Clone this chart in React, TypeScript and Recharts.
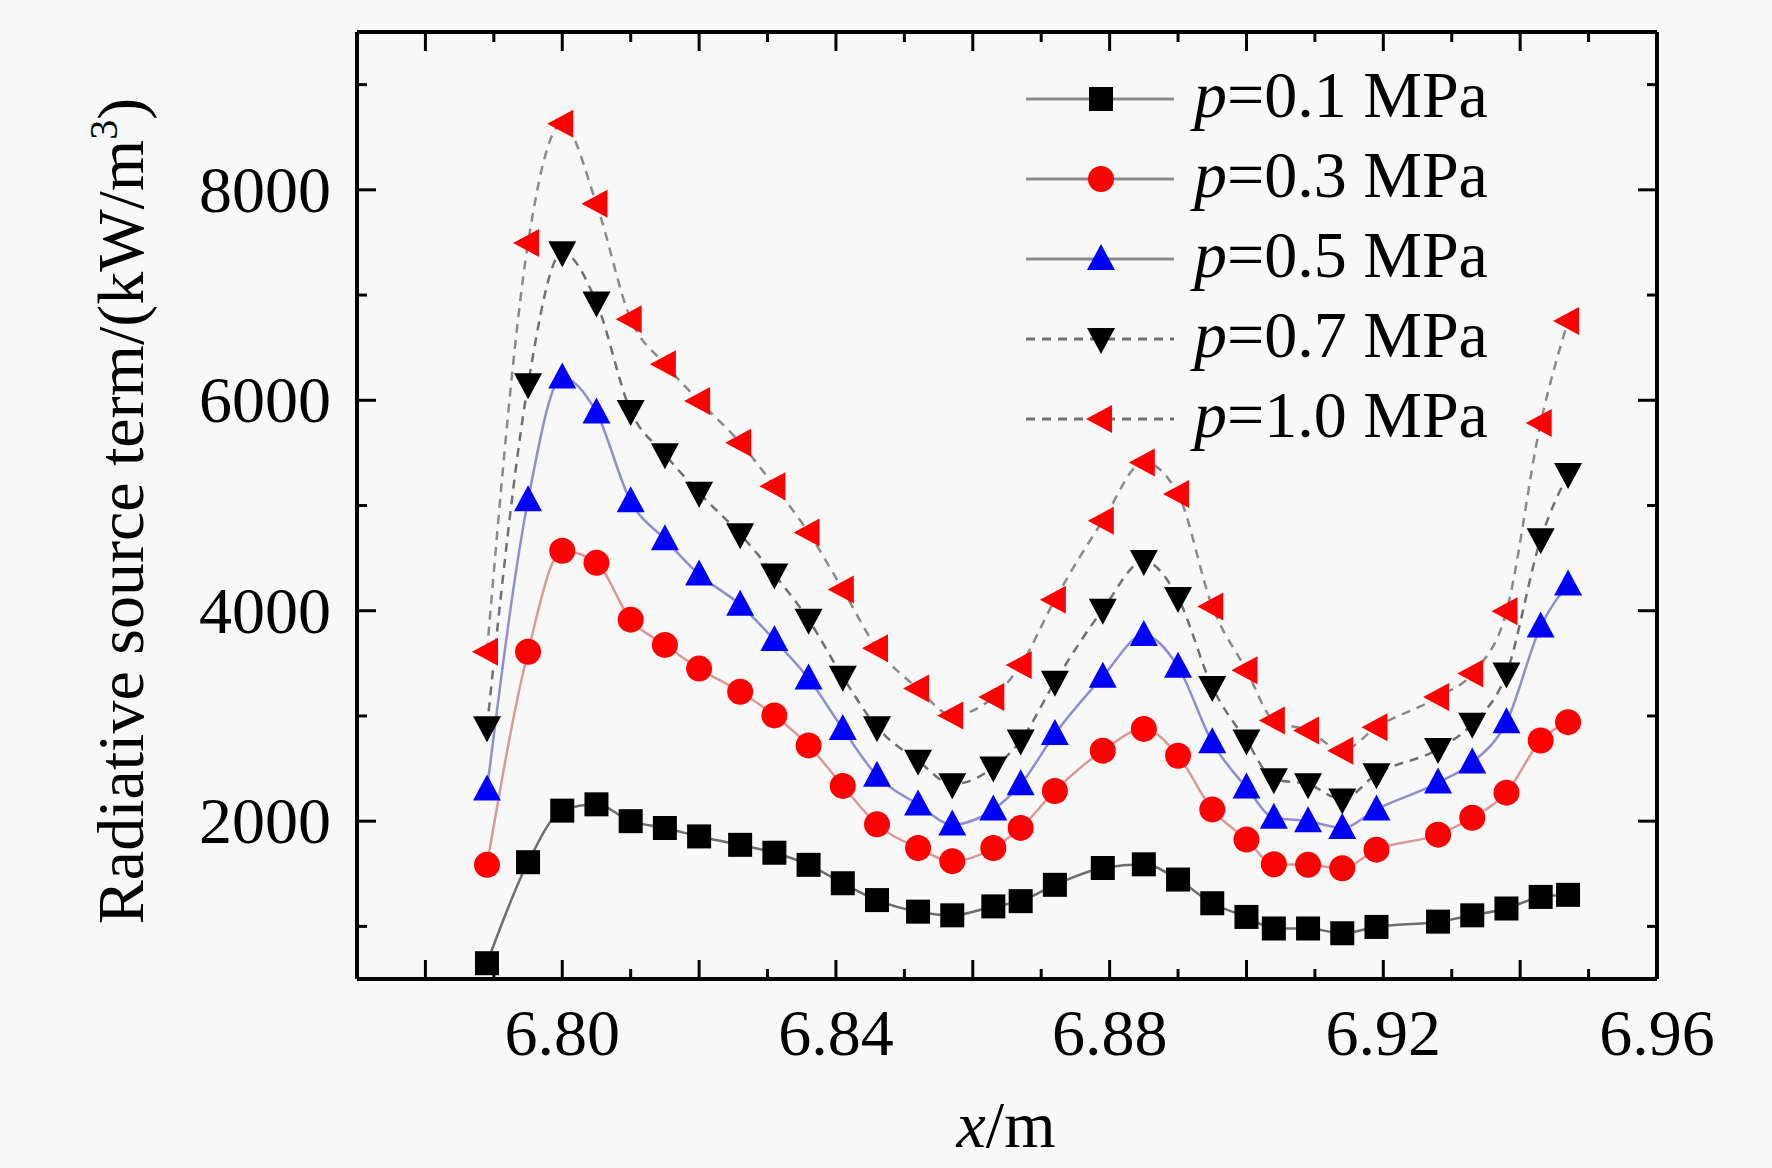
import React from 'react';
import { LineChart, Line, XAxis, YAxis, Legend } from 'recharts';

// x positions (m)
const xValues = [
  6.789, 6.795, 6.800, 6.805, 6.810, 6.815, 6.820, 6.826, 6.831, 6.836, 6.841,
  6.846, 6.852, 6.857, 6.863, 6.867, 6.872, 6.879, 6.885, 6.890, 6.895, 6.900,
  6.904, 6.909, 6.914, 6.919, 6.928, 6.933, 6.938, 6.943, 6.947,
];

// radiative source term (kW/m3) per pressure
const p01 = [
  650, 1610, 2100, 2160, 2000, 1935, 1855, 1775, 1700, 1585, 1410,
  1250, 1140, 1105, 1190, 1240, 1395, 1555, 1590, 1445, 1220, 1090,
  980, 980, 935, 995, 1045, 1105, 1170, 1280, 1300,
];
const p03 = [
  1585, 3610, 4570, 4455, 3915, 3675, 3450, 3230, 3005, 2720, 2335,
  1970, 1745, 1620, 1745, 1936, 2287, 2670, 2877, 2622, 2112, 1825,
  1590, 1585, 1553, 1729, 1872, 2032, 2271, 2766, 2941,
];
const p05 = [
  2300, 5050, 6216, 5883, 5040, 4679, 4344, 4057, 3722, 3356, 2877,
  2431, 2159, 1968, 2112, 2351, 2829, 3372, 3770, 3467, 2750, 2319,
  2032, 2000, 1936, 2112, 2367, 2558, 2941, 3850, 4250,
];
const p07 = [
  2893, 6152, 7406, 6930, 5898, 5486, 5121, 4727, 4344, 3914, 3372,
  2893, 2574, 2351, 2510, 2766, 3324, 4010, 4472, 4121, 3276, 2766,
  2399, 2351, 2207, 2447, 2686, 2925, 3404, 4679, 5300,
];
const p10 = [
  3611, 7495, 8629, 7867, 6771, 6343, 5994, 5597, 5184, 4743, 4201,
  3643, 3260, 3005, 3180, 3483, 4105, 4855, 5409, 5110, 4041, 3435,
  2957, 2861, 2670, 2893, 3180, 3404, 3994, 5785, 6753,
];

const seriesNames = ['0.1', '0.3', '0.5', '0.7', '1.0'];

const xTicks = [
  6.78, 6.79, 6.80, 6.81, 6.82, 6.83, 6.84, 6.85, 6.86, 6.87,
  6.88, 6.89, 6.90, 6.91, 6.92, 6.93, 6.94, 6.95, 6.96,
];
const xLabelTicks = [6.80, 6.84, 6.88, 6.92, 6.96];
const yTicks = [1000, 2000, 3000, 4000, 5000, 6000, 7000, 8000, 9000];
const yLabelTicks = [2000, 4000, 6000, 8000];

const data = xValues.map((x, i) => ({
  x,
  p01: p01[i],
  p03: p03[i],
  p05: p05[i],
  p07: p07[i],
  p10: p10[i],
}));

const FONT = '"Liberation Serif", "Times New Roman", serif';

const series = [
  { key: 'p01', name: seriesNames[0], marker: 'square', fill: '#000000', line: '#6e6e6e', dash: undefined },
  { key: 'p03', name: seriesNames[1], marker: 'circle', fill: '#ff0000', line: '#d89a9a', dash: undefined },
  { key: 'p05', name: seriesNames[2], marker: 'up', fill: '#0000ff', line: '#8f8fcf', dash: undefined },
  { key: 'p07', name: seriesNames[3], marker: 'down', fill: '#000000', line: '#707070', dash: '9 7' },
  { key: 'p10', name: seriesNames[4], marker: 'left', fill: '#ff0000', line: '#8a8a8a', dash: '9 7' },
];

const Marker = ({ cx, cy, shape, fill }: any) => {
  if (cx == null || cy == null) return null;
  if (shape === 'square') {
    return <rect x={cx - 12} y={cy - 12} width={24} height={24} fill={fill} />;
  }
  if (shape === 'circle') {
    return <circle cx={cx} cy={cy} r={13} fill={fill} />;
  }
  let pts = '';
  if (shape === 'up') pts = `${cx},${cy - 15} ${cx - 14},${cy + 11} ${cx + 14},${cy + 11}`;
  if (shape === 'down') pts = `${cx},${cy + 15} ${cx - 14},${cy - 11} ${cx + 14},${cy - 11}`;
  if (shape === 'left') pts = `${cx - 15},${cy} ${cx + 11},${cy - 14} ${cx + 11},${cy + 14}`;
  return <polygon points={pts} fill={fill} />;
};

const near = (list: number[], v: number) => list.some((t) => Math.abs(t - v) < 1e-6);

const PLOT_LEFT = 357;
const PLOT_TOP = 32;
const PLOT_RIGHT = 1657;
const PLOT_BOTTOM = 979;
const AXIS_SPACE = 30;

// custom ticks draw inward tick marks from the frame line
const BottomTick = ({ x, payload }: any) => {
  const v = payload.value;
  const major = Math.round(v * 100) % 2 === 0;
  const y = PLOT_BOTTOM;
  return (
    <g>
      <line x1={x} y1={y} x2={x} y2={y - (major ? 19 : 10)} stroke="#000" strokeWidth={3} />
      {near(xLabelTicks, v) && (
        <text x={x} y={y + 76} textAnchor="middle" fontFamily={FONT} fontSize={66} fill="#000">
          {v.toFixed(2)}
        </text>
      )}
    </g>
  );
};

const TopTick = ({ x, payload }: any) => {
  const major = Math.round(payload.value * 100) % 2 === 0;
  const y = PLOT_TOP;
  return <line x1={x} y1={y} x2={x} y2={y + (major ? 19 : 10)} stroke="#000" strokeWidth={3} />;
};

const LeftTick = ({ y, payload }: any) => {
  const v = payload.value;
  const major = near(yLabelTicks, v);
  const x = PLOT_LEFT;
  return (
    <g>
      <line x1={x} y1={y} x2={x + (major ? 19 : 10)} y2={y} stroke="#000" strokeWidth={3} />
      {major && (
        <text x={x - 26} y={y + 22} textAnchor="end" fontFamily={FONT} fontSize={66} fill="#000">
          {v}
        </text>
      )}
    </g>
  );
};

const RightTick = ({ y, payload }: any) => {
  const major = near(yLabelTicks, payload.value);
  const x = PLOT_RIGHT;
  return <line x1={x} y1={y} x2={x - (major ? 19 : 10)} y2={y} stroke="#000" strokeWidth={3} />;
};

const LegendBox = () => (
  <svg width={520} height={420}>
    {series.map((s, i) => {
      const y = 49 + i * 80;
      return (
        <g key={s.key}>
          <line x1={26} y1={y} x2={174} y2={y} stroke={s.dash ? '#707070' : '#8a8a8a'} strokeWidth={3} strokeDasharray={s.dash} />
          <Marker cx={101} cy={y} shape={s.marker} fill={s.fill} />
          <text x={194} y={y + 18} fontFamily={FONT} fontSize={66} fill="#000">
            <tspan fontStyle="italic">p</tspan>
            {`=${s.name} MPa`}
          </text>
        </g>
      );
    })}
  </svg>
);

export default function App() {
  return (
    <div style={{ position: 'absolute', left: 0, top: 0, width: 1772, height: 1168, background: '#f8f8f8' }}>
      <LineChart
        width={1772}
        height={1168}
        data={data}
        margin={{
          top: PLOT_TOP - AXIS_SPACE,
          left: PLOT_LEFT - AXIS_SPACE,
          right: 1772 - PLOT_RIGHT - AXIS_SPACE,
          bottom: 1168 - PLOT_BOTTOM - AXIS_SPACE,
        }}
      >
        <XAxis
          dataKey="x"
          type="number"
          domain={[6.77, 6.96]}
          ticks={xTicks}
          interval={0}
          height={AXIS_SPACE}
          tickLine={false}
          tick={<BottomTick />}
          axisLine={{ stroke: '#000', strokeWidth: 4 }}
          allowDataOverflow
          label={{
            content: () => (
              <text x={1006} y={1147} textAnchor="middle" fontFamily={FONT} fontSize={66} fill="#000">
                <tspan fontStyle="italic">x</tspan>/m
              </text>
            ),
          }}
        />
        <XAxis
          xAxisId="top"
          orientation="top"
          dataKey="x"
          type="number"
          domain={[6.77, 6.96]}
          ticks={xTicks}
          interval={0}
          height={AXIS_SPACE}
          tickLine={false}
          tick={<TopTick />}
          axisLine={{ stroke: '#000', strokeWidth: 4 }}
          allowDataOverflow
        />
        <YAxis
          type="number"
          domain={[500, 9500]}
          ticks={yTicks}
          interval={0}
          width={AXIS_SPACE}
          tickLine={false}
          tick={<LeftTick />}
          axisLine={{ stroke: '#000', strokeWidth: 4 }}
          allowDataOverflow
          label={{
            content: () => (
              <text
                transform="translate(143, 511) rotate(-90)"
                textAnchor="middle"
                fontFamily={FONT}
                fontSize={66}
                fill="#000"
              >
                Radiative source term/(kW/m
                <tspan dy={-26} fontSize={40}>3</tspan>
                <tspan dy={26}>)</tspan>
              </text>
            ),
          }}
        />
        <YAxis
          yAxisId="right"
          orientation="right"
          type="number"
          domain={[500, 9500]}
          ticks={yTicks}
          interval={0}
          width={AXIS_SPACE}
          tickLine={false}
          tick={<RightTick />}
          axisLine={{ stroke: '#000', strokeWidth: 4 }}
          allowDataOverflow
        />
        <Legend
          layout="vertical"
          align="center"
          verticalAlign="middle"
          wrapperStyle={{ left: 1000, top: 50, width: 520, height: 420 }}
          content={<LegendBox />}
        />
        {series.map((s) => (
          <Line
            key={s.key}
            dataKey={s.key}
            type="monotone"
            stroke={s.line}
            strokeWidth={2.5}
            strokeDasharray={s.dash}
            dot={(props: any) => <Marker key={`${s.key}-${props.index}`} cx={props.cx} cy={props.cy} shape={s.marker} fill={s.fill} />}
            activeDot={false}
            isAnimationActive={false}
          />
        ))}
      </LineChart>
    </div>
  );
}
